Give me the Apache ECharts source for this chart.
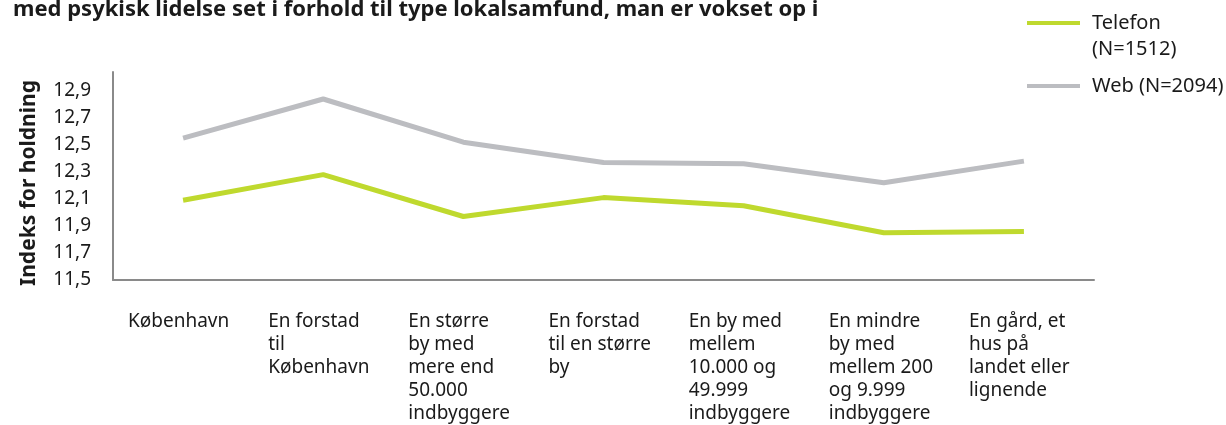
<!DOCTYPE html>
<html>
<head>
<meta charset="utf-8">
<script src="https://cdn.jsdelivr.net/npm/echarts@6/dist/echarts.min.js"></script>
<style>
  html, body { margin: 0; padding: 0; background: #fff; }
  #chart { width: 1226px; height: 425px; }
</style>
</head>
<body>
<div id="chart"></div>
<script>
const categories = [
  'København',
  'En forstad\ntil\nKøbenhavn',
  'En større\nby med\nmere end\n50.000\nindbyggere',
  'En forstad\ntil en større\nby',
  'En by med\nmellem\n10.000 og\n49.999\nindbyggere',
  'En mindre\nby med\nmellem 200\nog 9.999\nindbyggere',
  'En gård, et\nhus på\nlandet eller\nlignende'
]
const telefon = [12.09, 12.28, 11.97, 12.11, 12.05, 11.85, 11.86]
const web = [12.55, 12.84, 12.52, 12.37, 12.36, 12.22, 12.38]
const seriesNames = ['Telefon (N=1512)', 'Web (N=2094)']

const FONT = 'Noto Sans'
const TEXT = '#1a1a1a'

const chart = echarts.init(document.getElementById('chart'))

// one legend per series so the icon sits on the first text line
const legendBase = {
  orient: 'vertical',
  left: 1027,
  padding: 0,
  itemWidth: 53,
  itemHeight: 4,
  icon: 'rect',
  textStyle: {
    fontFamily: FONT, fontSize: 20, color: TEXT, lineHeight: 26,
    rich: { t: { fontFamily: FONT, fontSize: 20, color: TEXT, lineHeight: 26, padding: [0, 0, 0, 7] } }
  }
}

chart.setOption({
  animation: false,
  title: {
    text: 'med psykisk lidelse set i forhold til type lokalsamfund, man er vokset op i',
    left: 8,
    top: -6,
    textStyle: { fontFamily: FONT, fontWeight: 'bold', fontSize: 22, color: TEXT }
  },
  legend: [
    {
      ...legendBase,
      top: -16,
      data: [seriesNames[0]],
      formatter: () => '{t| }\n{t|Telefon}\n{t|(N=1512)}'
    },
    {
      ...legendBase,
      top: 73,
      data: [seriesNames[1]],
      formatter: name => '{t|' + name + '}'
    }
  ],
  grid: { left: 113, width: 981, top: 72, bottom: 144, containLabel: false },
  xAxis: {
    type: 'category',
    data: categories,
    boundaryGap: true,
    axisLine: { lineStyle: { color: '#8a8a8a', width: 2 } },
    axisTick: { show: false },
    axisLabel: {
      interval: 0,
      align: 'left',
      margin: 30,
      padding: [0, 0, 0, -55],
      fontFamily: FONT,
      fontSize: 19,
      lineHeight: 23,
      color: TEXT
    }
  },
  yAxis: {
    type: 'value',
    min: 11.5,
    max: 13.04,
    interval: 0.2,
    name: 'Indeks for holdning',
    nameLocation: 'middle',
    nameGap: 73,
    nameTextStyle: { fontFamily: FONT, fontWeight: 'bold', fontSize: 21, color: TEXT, padding: [0, 14, 0, 0] },
    axisLine: { show: true, lineStyle: { color: '#8a8a8a', width: 2 } },
    axisTick: { show: false },
    splitLine: { show: false },
    axisLabel: {
      showMaxLabel: false,
      margin: 22,
      fontFamily: FONT,
      fontSize: 19,
      color: TEXT,
      formatter: v => v.toFixed(1).replace('.', ',')
    }
  },
  series: [
    {
      name: seriesNames[0],
      type: 'line',
      data: telefon,
      symbol: 'none',
      color: '#bfd92e',
      lineStyle: { width: 5, color: '#bfd92e' }
    },
    {
      name: seriesNames[1],
      type: 'line',
      data: web,
      symbol: 'none',
      color: '#bcbdc1',
      lineStyle: { width: 5, color: '#bcbdc1' }
    }
  ]
})
</script>
</body>
</html>
